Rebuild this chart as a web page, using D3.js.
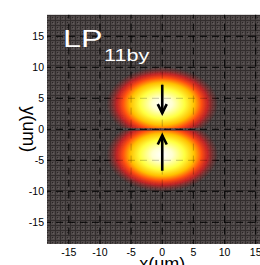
<!DOCTYPE html>
<html>
<head>
<meta charset="utf-8">
<script src="https://cdn.jsdelivr.net/npm/d3@7"></script>
<style>
  body { margin: 0; background: #fff; }
  text { font-family: Arial, "Liberation Sans", sans-serif; }
</style>
</head>
<body>
<div id="mode"></div>
<script>
// tick values (um)
var xTicks = [-15, -10, -5, 0, 5, 10, 15];
var yTicks = [-15, -10, -5, 0, 5, 10, 15];

// two lobes of the LP11 mode: centre and half widths (um)
var lobeNames = ["upper", "lower"];
var lobeX = [0, 0];
var lobeY = [4.1, -4.1];
var lobeRx = [9.0, 9.0];
var lobeRy = [6.0, 6.0];

// field arrows: start and end y (um)
var arrowX = [0, 0];
var arrowFrom = [7.2, -6.7];
var arrowTo = [2.6, -1.0];

var width = 260, height = 265;

var xScale = d3.scaleLinear().domain([-18.5, 18.5]).range([47, 277.5]);
var yScale = d3.scaleLinear().domain([-18.5, 18.5]).range([244, 14.6]);

var svg = d3.select("#mode")
			.append("svg")
				.attr("width", width)
				.attr("height", height);

var defs = svg.append("defs");

// dotted texture of the background
var pat = defs.append("pattern")
			.attr("id", "tex")
			.attr("width", 5)
			.attr("height", 5)
			.attr("patternUnits", "userSpaceOnUse");
pat.append("rect").attr("width", 5).attr("height", 5).attr("fill", "#4f4949");
pat.append("rect").attr("width", 5).attr("height", 1).attr("fill", "#332e2e");
pat.append("rect").attr("width", 1).attr("height", 5).attr("fill", "#332e2e");
pat.append("rect").attr("x", 2).attr("y", 2).attr("width", 1).attr("height", 1).attr("fill", "#2a2626");
pat.append("rect").attr("x", 3).attr("y", 3).attr("width", 1).attr("height", 1).attr("fill", "#625b5b");

// hot colour ramp
var stops = [
	[0, "#ffffff", 1],
	[0.18, "#ffffd0", 1],
	[0.4, "#ffff40", 1],
	[0.57, "#ffc000", 1],
	[0.7, "#ff5010", 1],
	[0.81, "#e02020", 0.8],
	[0.91, "#a52828", 0.4],
	[1, "#802020", 0]
];
var grad = defs.append("radialGradient").attr("id", "hot");
grad.selectAll("stop")
	.data(stops)
	.enter()
	.append("stop")
		.attr("offset", function(d){ return d[0]; })
		.attr("stop-color", function(d){ return d[1]; })
		.attr("stop-opacity", function(d){ return d[2]; });

defs.append("clipPath").attr("id", "plotClip")
	.append("rect")
		.attr("x", xScale(-18.5)).attr("y", yScale(18.5))
		.attr("width", xScale(18.5) - xScale(-18.5))
		.attr("height", yScale(-18.5) - yScale(18.5));

// half planes so the lobes are split by the dark node line
defs.append("clipPath").attr("id", "clip-upper")
	.append("rect")
		.attr("x", 0).attr("y", 0)
		.attr("width", width).attr("height", yScale(0.18));
defs.append("clipPath").attr("id", "clip-lower")
	.append("rect")
		.attr("x", 0).attr("y", yScale(-0.18))
		.attr("width", width).attr("height", height);

var plot = svg.append("g").attr("clip-path", "url(#plotClip)");

plot.append("rect")
	.attr("x", xScale(-18.5)).attr("y", yScale(18.5))
	.attr("width", xScale(18.5) - xScale(-18.5))
	.attr("height", yScale(-18.5) - yScale(18.5))
	.attr("fill", "url(#tex)");

// dashed grid, drawn under and faintly over the intensity
function drawGrid(layer, op){
	layer.selectAll("vgrid")
		.data(xTicks)
		.enter()
		.append("line")
			.attr("x1", function(d){ return xScale(d); })
			.attr("x2", function(d){ return xScale(d); })
			.attr("y1", yScale(18.5))
			.attr("y2", yScale(-18.5))
			.attr("stroke", "#000")
			.attr("stroke-opacity", op)
			.attr("stroke-dasharray", "7,5")
			.attr("stroke-dashoffset", 3);
	layer.selectAll("hgrid")
		.data(yTicks)
		.enter()
		.append("line")
			.attr("y1", function(d){ return yScale(d); })
			.attr("y2", function(d){ return yScale(d); })
			.attr("x1", xScale(-18.5))
			.attr("x2", xScale(18.5))
			.attr("stroke", "#000")
			.attr("stroke-opacity", op)
			.attr("stroke-dasharray", "7,5")
			.attr("stroke-dashoffset", 3);
}
drawGrid(plot.append("g"), 0.85);

plot.selectAll("lobes")
	.data(lobeNames)
	.enter()
	.append("ellipse")
		.attr("clip-path", function(d){ return "url(#clip-" + d + ")"; })
		.attr("cx", function(d, i){ return xScale(lobeX[i]); })
		.attr("cy", function(d, i){ return yScale(lobeY[i]); })
		.attr("rx", function(d, i){ return xScale(lobeRx[i]) - xScale(0); })
		.attr("ry", function(d, i){ return yScale(0) - yScale(lobeRy[i]); })
		.attr("fill", "url(#hot)");

drawGrid(plot.append("g"), 0.22);

// arrows
var arrows = plot.selectAll("arrows")
	.data(arrowX)
	.enter()
	.append("g")
		.attr("stroke", "#000")
		.attr("stroke-width", 2.6)
		.attr("fill", "none");
arrows.append("line")
	.attr("x1", function(d){ return xScale(d); })
	.attr("x2", function(d){ return xScale(d); })
	.attr("y1", function(d, i){ return yScale(arrowFrom[i]); })
	.attr("y2", function(d, i){ return yScale(arrowTo[i]); });
arrows.append("path")
	.attr("d", function(d, i){
		var tx = xScale(d), ty = yScale(arrowTo[i]);
		var dir = arrowTo[i] < arrowFrom[i] ? -1 : 1;
		return "M" + (tx - 4.5) + "," + (ty + dir * 9) + "L" + tx + "," + ty + "L" + (tx + 4.5) + "," + (ty + dir * 9);
	});

// tick labels
svg.selectAll("xlabels")
	.data(xTicks)
	.enter()
	.append("text")
		.attr("x", function(d){ return xScale(d); })
		.attr("y", 256)
		.attr("text-anchor", "middle")
		.style("font-size", "10.5px")
		.text(function(d){ return d; });
svg.selectAll("ylabels")
	.data(yTicks)
	.enter()
	.append("text")
		.attr("x", 44)
		.attr("y", function(d){ return yScale(d) + 4; })
		.attr("text-anchor", "end")
		.style("font-size", "10.5px")
		.text(function(d){ return d; });

// axis titles
svg.append("text")
	.attr("x", xScale(0))
	.attr("y", 270)
	.attr("text-anchor", "middle")
	.style("font-size", "18px")
	.text("x(um)");
svg.append("text")
	.attr("transform", "translate(23," + yScale(0) + ") rotate(90)")
	.attr("text-anchor", "middle")
	.style("font-size", "18px")
	.text("y(um)");

// mode name
var title = svg.append("text")
	.attr("transform", "translate(63,47) scale(1.35,1)")
	.attr("fill", "#fff")
	.style("font-size", "24px");
title.append("tspan").text("LP");
title.append("tspan")
	.attr("dy", 14)
	.attr("dx", 1)
	.style("font-size", "16px")
	.text("11by");
</script>
</body>
</html>
